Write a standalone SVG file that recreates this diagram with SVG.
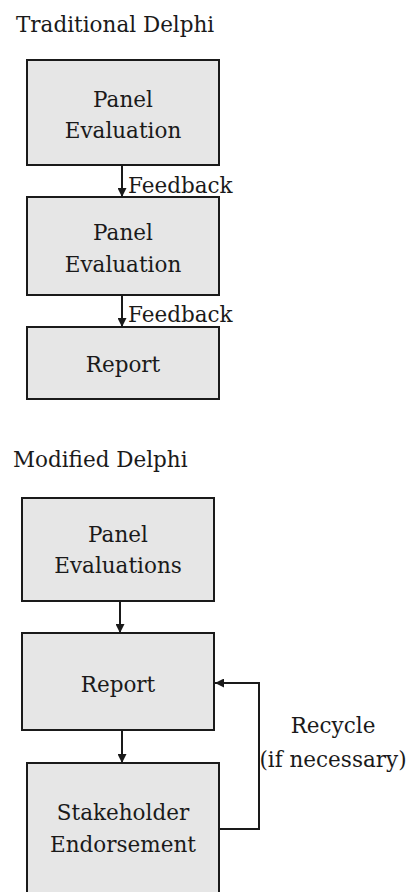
<svg xmlns="http://www.w3.org/2000/svg" width="408" height="892" viewBox="0 0 408 892">
<style>
text{font-family:"DejaVu Serif","Liberation Serif",serif;font-size:21.5px;fill:#1a1a1a}
.c{text-anchor:middle}
.box{fill:#e6e6e6;stroke:#1a1a1a;stroke-width:2}
.ln{fill:none;stroke:#1a1a1a;stroke-width:2}
</style>
<defs>
<marker id="ah" viewBox="0 0 10 10" refX="10" refY="5" markerWidth="4.5" markerHeight="4.5" orient="auto" markerUnits="strokeWidth">
<path d="M0,0 L10,5 L0,10 z" fill="#1a1a1a"/>
</marker>
</defs>
<rect width="408" height="892" fill="#fff"/>
<text x="16" y="32">Traditional Delphi</text>
<text x="13" y="467">Modified Delphi</text>
<g id="t1"><rect class="box" x="27" y="60" width="192" height="105"/><text class="c" x="123" y="107">Panel</text><text class="c" x="123" y="138">Evaluation</text></g>
<g id="t2"><rect class="box" x="27" y="197" width="192" height="98"/><text class="c" x="123" y="240">Panel</text><text class="c" x="123" y="272">Evaluation</text></g>
<g id="t3"><rect class="box" x="27" y="327" width="192" height="72"/><text class="c" x="123" y="372">Report</text></g>
<g id="m1"><rect class="box" x="22" y="498" width="192" height="103"/><text class="c" x="118" y="542">Panel</text><text class="c" x="118" y="573">Evaluations</text></g>
<g id="m2"><rect class="box" x="22" y="633" width="192" height="97"/><text class="c" x="118" y="692">Report</text></g>
<g id="m3"><rect class="box" x="27" y="763" width="192" height="140"/><text class="c" x="123" y="820">Stakeholder</text><text class="c" x="123" y="852">Endorsement</text></g>
<g id="connectors">
<path class="ln" d="M122,165 V197" marker-end="url(#ah)"/>
<path class="ln" d="M122,295 V327" marker-end="url(#ah)"/>
<path class="ln" d="M120,601 V633" marker-end="url(#ah)"/>
<path class="ln" d="M122,730 V763" marker-end="url(#ah)"/>
<path class="ln" d="M219,829 H259 V683 H215" marker-end="url(#ah)"/>
<text x="128" y="193">Feedback</text>
<text x="128" y="322">Feedback</text>
<text class="c" x="333" y="733">Recycle</text>
<text class="c" x="333" y="767">(if necessary)</text>
</g>
</svg>
